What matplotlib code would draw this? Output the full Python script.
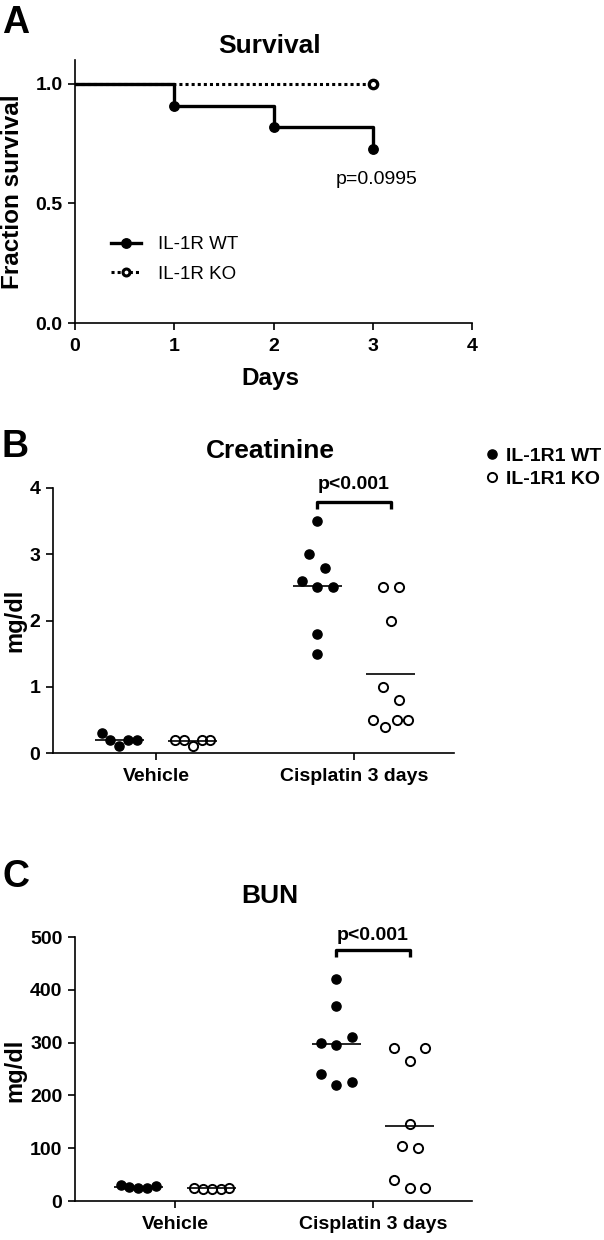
import matplotlib
matplotlib.use("Agg")
import matplotlib.pyplot as plt
from matplotlib.lines import Line2D
import numpy as np

plt.rcParams['font.family'] = ['Liberation Sans', 'DejaVu Sans']
plt.rcParams['axes.linewidth'] = 1.2

# Panel A - survival
days = [0, 1, 2, 3]
wt_survival = [1.0, 0.909, 0.818, 0.727]
ko_days = [0, 3]
ko_survival = [1.0, 1.0]

# Panels B, C - groups
groups = ['Vehicle', 'Cisplatin 3 days']

creat_wt_vehicle = [0.3, 0.2, 0.1, 0.2, 0.2]
creat_ko_vehicle = [0.2, 0.2, 0.1, 0.2, 0.2]
creat_wt_cis = [3.5, 3.0, 2.8, 2.6, 2.5, 2.5, 1.8, 1.5]
creat_ko_cis = [2.5, 2.5, 2.0, 1.0, 0.8, 0.5, 0.4, 0.5, 0.5]

bun_wt_vehicle = [30, 26, 24, 25, 28]
bun_ko_vehicle = [25, 23, 23, 23, 25]
bun_wt_cis = [420, 370, 300, 295, 310, 240, 220, 225]
bun_ko_cis = [290, 265, 290, 145, 105, 100, 40, 25, 25]

W, H = 604, 1240


def fig_axes(left, top, right, bottom):
    """Axes from pixel box."""
    return fig.add_axes([left / W, 1 - bottom / H, (right - left) / W, (bottom - top) / H])


def swarm_offsets(values, thr, step=0.08, max_width=0.18):
    # group close values into rows, spread each row sideways
    rows = []
    for i, v in enumerate(values):
        if rows and abs(v - values[rows[-1][0]]) <= thr:
            rows[-1].append(i)
        else:
            rows.append([i])
    offs = np.zeros(len(values))
    for r in rows:
        n = len(r)
        if n > 1:
            s = min(step, max_width / (n - 1))
            for k, i in enumerate(r):
                offs[i] = (k - (n - 1) / 2) * s
    return offs


def style_axes(ax):
    ax.spines['top'].set_visible(False)
    ax.spines['right'].set_visible(False)
    ax.tick_params(length=5, width=1.2, labelsize=14, pad=4)
    for lab in ax.get_xticklabels() + ax.get_yticklabels():
        lab.set_fontweight('bold')


fig = plt.figure(figsize=(W / 100, H / 100), dpi=100)

# ---------------- A ----------------
axA = fig_axes(75, 60, 472, 323)
axA.plot(ko_days, ko_survival, color='black', lw=2.2, linestyle=(0, (1, 1)),
         zorder=2)
axA.plot(ko_days[-1:], ko_survival[-1:], 'o', ms=6, mfc='white', mec='black',
         mew=2.4, zorder=5, clip_on=False)
axA.step(days, wt_survival, where='post', color='black', lw=2.4, zorder=3)
axA.plot(days[1:], wt_survival[1:], 'o', color='black', ms=6.8, zorder=4)

axA.set_xlim(0, 4)
axA.set_ylim(0, 1.1)
axA.set_xticks([0, 1, 2, 3, 4])
axA.set_yticks([0.0, 0.5, 1.0])
axA.set_yticklabels(['0.0', '0.5', '1.0'])
style_axes(axA)
axA.tick_params(axis='x', pad=6)
axA.text(3.04, 0.6, 'p=0.0995', fontsize=14, ha='center', va='center')

h_wt = Line2D([], [], color='black', lw=2.4, marker='o', ms=6.8)
h_ko = Line2D([], [], color='black', lw=2.2, linestyle=(0, (1, 1)), marker='o',
              ms=5, mfc='white', mec='black', mew=2.2)
axA.legend([h_wt, h_ko], ['IL-1R WT', 'IL-1R KO'], loc='upper left',
           bbox_to_anchor=(0.09, 0.33), frameon=False, fontsize=13.5,
           handlelength=1.6, handletextpad=0.9, labelspacing=0.65,
           borderpad=0, borderaxespad=0, numpoints=1)

fig.text(270 / W, 1 - 53 / H, 'Survival', fontsize=19, fontweight='bold',
         ha='center', va='baseline')
fig.text(13 / W, 1 - 192 / H, 'Fraction survival', fontsize=17.5,
         fontweight='bold', rotation=90, ha='center', va='center')
fig.text(270 / W, 1 - 385 / H, 'Days', fontsize=17.5, fontweight='bold',
         ha='center', va='baseline')
fig.text(2 / W, 1 - 33 / H, 'A', fontsize=27, fontweight='bold', va='baseline')


# ---------------- B, C ----------------
def dot_panel(ax, wt_sets, ko_sets, ymax, yticks, xlim):
    thr = 0.053 * ymax
    for gi, (wt, ko) in enumerate(zip(wt_sets, ko_sets)):
        for vals, dx, filled in [(wt, -0.185, True), (ko, 0.185, False)]:
            xs = gi + dx + swarm_offsets(vals, thr)
            if filled:
                ax.plot(xs, vals, 'o', color='black', ms=6.6, zorder=3,
                        clip_on=False)
            else:
                ax.plot(xs, vals, 'o', ms=6.6, mfc='none', mec='black',
                        mew=1.4, zorder=3, clip_on=False)
            m = np.mean(vals)
            ax.hlines(m, gi + dx - 0.1225, gi + dx + 0.1225, color='black',
                      lw=1.2, zorder=4)
    ax.set_xlim(*xlim)
    ax.set_ylim(0, ymax)
    ax.set_yticks(yticks)
    ax.set_xticks(range(len(groups)))
    ax.set_xticklabels(groups)
    style_axes(ax)
    ax.tick_params(axis='x', pad=6)


def bracket(ax, x0, x1, ytop, ybot, ytext):
    ax.plot([x0, x0, x1, x1], [ybot, ytop, ytop, ybot], color='black', lw=2.4,
            clip_on=False, solid_capstyle='butt')
    ax.text((x0 + x1) / 2, ytext, 'p<0.001', fontsize=14, fontweight='bold',
            ha='center', va='center', clip_on=False)


axB = fig_axes(53, 488, 454, 753)
dot_panel(axB, [creat_wt_vehicle, creat_wt_cis], [creat_ko_vehicle, creat_ko_cis],
          4, [0, 1, 2, 3, 4], (-0.52, 1.505))
bracket(axB, 1 - 0.185, 1 + 0.185, 3.79, 3.69, 4.06)
fig.text(270 / W, 1 - 458 / H, 'Creatinine', fontsize=19, fontweight='bold',
         ha='center', va='baseline')
fig.text(15 / W, 1 - 620 / H, 'mg/dl', fontsize=17, fontweight='bold',
         rotation=90, ha='center', va='center')
fig.text(2 / W, 1 - 457 / H, 'B', fontsize=27, fontweight='bold', va='baseline')

h1 = Line2D([], [], ls='none', marker='o', color='black', ms=6.6)
h2 = Line2D([], [], ls='none', marker='o', ms=6.6, mfc='none', mec='black', mew=1.4)
axB.legend([h1, h2], ['IL-1R1 WT', 'IL-1R1 KO'], loc='upper left',
           bbox_to_anchor=(486 / W, 1 - 447 / H), bbox_transform=fig.transFigure,
           frameon=False, fontsize=14, handlelength=0.6, handletextpad=0.45,
           labelspacing=0.3, borderpad=0, borderaxespad=0,
           prop={'weight': 'bold', 'size': 14})

axC = fig_axes(75, 937, 472, 1201)
dot_panel(axC, [bun_wt_vehicle, bun_wt_cis], [bun_ko_vehicle, bun_ko_cis],
          500, [0, 100, 200, 300, 400, 500], (-0.505, 1.5))
bracket(axC, 1 - 0.185, 1 + 0.185, 475, 462, 503)
fig.text(270 / W, 1 - 903 / H, 'BUN', fontsize=19, fontweight='bold',
         ha='center', va='baseline')
fig.text(15 / W, 1 - 1070 / H, 'mg/dl', fontsize=17, fontweight='bold',
         rotation=90, ha='center', va='center')
fig.text(2 / W, 1 - 887 / H, 'C', fontsize=27, fontweight='bold', va='baseline')

fig.savefig('out.png', dpi=100)
